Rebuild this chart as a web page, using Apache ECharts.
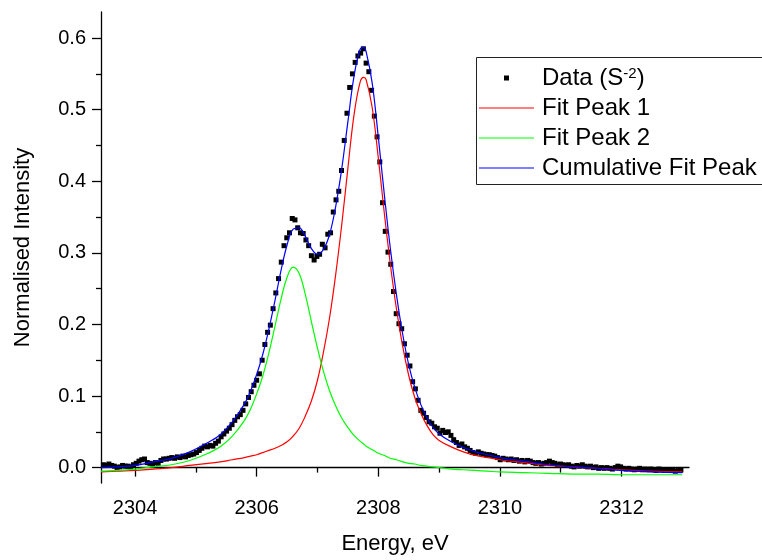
<!DOCTYPE html>
<html><head><meta charset="utf-8">
<script src="https://cdn.jsdelivr.net/npm/echarts@6/dist/echarts.min.js"></script>
<style>html,body{margin:0;padding:0;background:#fff}#c{width:762px;height:560px}</style>
</head><body><div id="c"></div>
<script>
const dataX = [2303.48,2303.525,2303.57,2303.615,2303.66,2303.705,2303.75,2303.795,2303.84,2303.885,
2303.93,2303.975,2304.02,2304.065,2304.11,2304.155,2304.2,2304.245,2304.29,2304.335,
2304.38,2304.425,2304.47,2304.515,2304.56,2304.605,2304.65,2304.695,2304.74,2304.785,
2304.83,2304.875,2304.92,2304.965,2305.01,2305.055,2305.1,2305.145,2305.19,2305.235,
2305.28,2305.325,2305.37,2305.415,2305.46,2305.505,2305.55,2305.595,2305.64,2305.685,
2305.73,2305.775,2305.82,2305.865,2305.91,2305.955,2306,2306.045,2306.09,2306.135,
2306.18,2306.225,2306.27,2306.315,2306.36,2306.405,2306.45,2306.495,2306.54,2306.585,
2306.63,2306.675,2306.72,2306.765,2306.81,2306.855,2306.9,2306.945,2306.99,2307.035,
2307.08,2307.125,2307.17,2307.215,2307.26,2307.305,2307.35,2307.395,2307.44,2307.485,
2307.53,2307.575,2307.62,2307.665,2307.71,2307.755,2307.8,2307.845,2307.89,2307.935,
2307.98,2308.025,2308.07,2308.115,2308.16,2308.205,2308.25,2308.295,2308.34,2308.385,
2308.43,2308.475,2308.52,2308.565,2308.61,2308.655,2308.7,2308.745,2308.79,2308.835,
2308.88,2308.925,2308.97,2309.015,2309.06,2309.105,2309.15,2309.195,2309.24,2309.285,
2309.33,2309.375,2309.42,2309.465,2309.51,2309.555,2309.6,2309.645,2309.69,2309.735,
2309.78,2309.825,2309.87,2309.915,2309.96,2310.005,2310.05,2310.095,2310.14,2310.185,
2310.23,2310.275,2310.32,2310.365,2310.41,2310.455,2310.5,2310.545,2310.59,2310.635,
2310.68,2310.725,2310.77,2310.815,2310.86,2310.905,2310.95,2310.995,2311.04,2311.085,
2311.13,2311.175,2311.22,2311.265,2311.31,2311.355,2311.4,2311.445,2311.49,2311.535,
2311.58,2311.625,2311.67,2311.715,2311.76,2311.805,2311.85,2311.895,2311.94,2311.985,
2312.03,2312.075,2312.12,2312.165,2312.21,2312.255,2312.3,2312.345,2312.39,2312.435,
2312.48,2312.525,2312.57,2312.615,2312.66,2312.705,2312.75,2312.795,2312.84,2312.885,
2312.93,2312.975];
const dataY = [0.004,0.003,0.005,0.003,0.002,0.000,0.001,0.003,0.002,0.002,
0.001,0.004,0.006,0.009,0.011,0.012,0.007,0.006,0.005,0.007,
0.006,0.010,0.012,0.012,0.013,0.014,0.013,0.015,0.014,0.016,
0.015,0.017,0.018,0.019,0.021,0.024,0.027,0.030,0.029,0.031,
0.030,0.034,0.037,0.043,0.047,0.051,0.055,0.060,0.066,0.071,
0.074,0.080,0.089,0.098,0.106,0.115,0.122,0.131,0.150,0.172,
0.189,0.199,0.222,0.244,0.264,0.287,0.310,0.321,0.328,0.348,
0.346,0.335,0.328,0.327,0.318,0.310,0.296,0.290,0.295,0.298,
0.312,0.307,0.326,0.328,0.357,0.374,0.386,0.415,0.457,0.495,
0.531,0.550,0.566,0.575,0.579,0.585,0.565,0.553,0.527,0.491,
0.462,0.427,0.370,0.330,0.301,0.284,0.246,0.215,0.201,0.194,
0.173,0.157,0.142,0.120,0.110,0.094,0.080,0.076,0.070,0.064,
0.062,0.057,0.055,0.048,0.052,0.049,0.050,0.045,0.039,0.035,
0.031,0.033,0.029,0.027,0.024,0.021,0.020,0.022,0.020,0.019,
0.018,0.018,0.017,0.016,0.014,0.011,0.013,0.012,0.011,0.012,
0.010,0.011,0.009,0.010,0.008,0.010,0.009,0.007,0.006,0.007,
0.005,0.006,0.007,0.009,0.007,0.006,0.004,0.005,0.004,0.003,
0.004,0.002,0.001,0.003,0.002,0.004,0.002,0.001,0.002,0.000,
0.001,-0.001,0.000,-0.001,0.000,-0.001,-0.002,0.000,0.002,0.001,
-0.001,-0.002,-0.001,-0.002,-0.003,-0.002,-0.001,-0.003,-0.002,-0.003,
-0.002,-0.003,-0.004,-0.002,-0.003,-0.004,-0.003,-0.004,-0.003,-0.005,
-0.004,-0.003];
const fitX = [2303.44,2303.7,2304.0,2304.3,2304.6,2304.9,2305.2,2305.4,2305.6,2305.8,2305.9,
2306.0,2306.1,2306.2,2306.3,2306.4,2306.5,2306.6,2306.7,2306.8,2306.9,
2307.0,2307.1,2307.2,2307.3,2307.4,2307.5,2307.6,2307.7,2307.76,2307.8,2307.9,
2308.0,2308.1,2308.2,2308.3,2308.4,2308.5,2308.6,2308.7,2308.8,2308.9,
2309.0,2309.2,2309.4,2309.6,2309.8,2310.0,2310.4,2310.8,2311.2,2311.6,2312.0,2312.5,2313.0];
const peak1 = [-0.006,-0.005,-0.004,-0.002,0.000,0.003,0.006,0.008,0.011,0.014,0.016,
0.018,0.021,0.024,0.027,0.031,0.036,0.044,0.055,0.072,0.093,
0.122,0.162,0.210,0.270,0.340,0.418,0.492,0.538,0.545,0.542,0.503,
0.433,0.355,0.283,0.221,0.170,0.129,0.098,0.076,0.059,0.046,
0.038,0.029,0.022,0.017,0.014,0.011,0.007,0.003,0.001,-0.001,-0.003,-0.005,-0.006];
const peak2 = [-0.005,-0.004,-0.002,0.001,0.004,0.010,0.020,0.029,0.044,0.066,0.082,
0.103,0.128,0.160,0.197,0.235,0.266,0.280,0.271,0.242,0.204,
0.167,0.134,0.107,0.086,0.069,0.056,0.045,0.037,0.033,0.030,0.025,
0.020,0.017,0.013,0.011,0.008,0.006,0.005,0.003,0.002,0.001,
0.000,-0.002,-0.003,-0.004,-0.005,-0.006,-0.007,-0.008,-0.009,-0.009,-0.010,-0.010,-0.010];
const cumulative = [0.000,0.001,0.003,0.008,0.013,0.022,0.035,0.046,0.064,0.089,0.107,
0.130,0.158,0.193,0.233,0.275,0.311,0.333,0.335,0.323,0.306,
0.298,0.305,0.326,0.365,0.418,0.483,0.546,0.584,0.587,0.581,0.537,
0.462,0.381,0.305,0.241,0.187,0.144,0.112,0.088,0.070,0.056,
0.047,0.036,0.028,0.022,0.018,0.014,0.009,0.004,0.001,-0.001,-0.004,-0.006,-0.007];
const xMajorTicks = [2304, 2306, 2308, 2310, 2312];
const xMinorTicks = [2305, 2307, 2309, 2311, 2313];
const yMajorTicks = [0, 0.1, 0.2, 0.3, 0.4, 0.5, 0.6];
const yMinorTicks = [0.05, 0.15, 0.25, 0.35, 0.45, 0.55];
const seriesNames = ['Data (S-2)', 'Fit Peak 1', 'Fit Peak 2', 'Cumulative Fit Peak'];

const FONT = "'Liberation Sans', Arial, sans-serif";
const X_MIN = 2303.44, X_MAX = 2313.11, Y_MIN = -0.0215, Y_MAX = 0.6364;
const zip = (xs, ys) => xs.map((x, i) => [x, ys[i]]);
const axisLineStyle = { color: '#000', width: 1.3 };
const corners = 'M0,0h0.01v0.01z M55,24h-0.01v-0.01z ';
const dotIcon = 'path://' + corners + 'M25,9.5h5v5h-5z';
const lineIcon = 'path://' + corners + 'M0,11.4h55v1.2h-55z';

const chart = echarts.init(document.getElementById('c'), null, { renderer: 'canvas' });
chart.setOption({
  animation: false,
  backgroundColor: '#fff',
  grid: { left: 101, right: 73, top: 12, bottom: 75 },
  graphic: [{
    type: 'rect', z: 5, silent: true,
    shape: { x: 476.5, y: 57.5, width: 320, height: 127 },
    style: { fill: '#fff', stroke: '#222', lineWidth: 1 }
  }],
  xAxis: [{
    type: 'value', min: X_MIN, max: X_MAX, position: 'bottom',
    axisLine: { show: true, lineStyle: axisLineStyle },
    axisTick: { show: true, customValues: xMajorTicks, length: 9, lineStyle: axisLineStyle },
    axisLabel: { customValues: xMajorTicks, formatter: v => String(v), fontSize: 20, color: '#000', fontFamily: FONT, margin: 15 },
    splitLine: { show: false },
    name: 'Energy, eV', nameLocation: 'middle', nameGap: 50,
    nameTextStyle: { fontSize: 22, color: '#000', fontFamily: FONT }
  }, {
    type: 'value', min: X_MIN, max: X_MAX, position: 'bottom',
    axisLine: { show: false },
    axisTick: { show: true, customValues: xMinorTicks, length: 5, lineStyle: axisLineStyle },
    axisLabel: { show: false }, splitLine: { show: false }
  }],
  yAxis: [{
    type: 'value', min: Y_MIN, max: Y_MAX, position: 'left',
    axisLine: { show: true, lineStyle: axisLineStyle },
    axisTick: { show: true, customValues: yMajorTicks, length: 9, lineStyle: axisLineStyle },
    axisLabel: { customValues: yMajorTicks, formatter: v => v.toFixed(1), fontSize: 20, color: '#000', fontFamily: FONT, margin: 15 },
    splitLine: { show: false },
    name: 'Normalised Intensity', nameLocation: 'middle', nameGap: 67,
    nameTextStyle: { fontSize: 22, color: '#000', fontFamily: FONT }
  }, {
    type: 'value', min: Y_MIN, max: Y_MAX, position: 'left',
    axisLine: { show: false },
    axisTick: { show: true, customValues: yMinorTicks, length: 5, lineStyle: axisLineStyle },
    axisLabel: { show: false }, splitLine: { show: false }
  }],
  legend: {
    orient: 'vertical', left: 476, top: 58, z: 6,
    itemWidth: 55, itemHeight: 24, itemGap: 6,
    padding: [8, 10, 5, 3],
    borderWidth: 0,
    textStyle: {
      fontSize: 24, color: '#000', fontFamily: FONT, padding: [0, 0, 0, 3],
      rich: {
        n: { fontSize: 24, color: '#000', fontFamily: FONT },
        s: { fontSize: 15, color: '#000', fontFamily: FONT, verticalAlign: 'top' }
      }
    },
    formatter: name => name === seriesNames[0] ? '{n|Data (S}{s|-2}{n|)}' : name,
    data: [
      { name: seriesNames[0], icon: dotIcon, itemStyle: { color: '#000', opacity: 1 } },
      { name: seriesNames[1], icon: lineIcon },
      { name: seriesNames[2], icon: lineIcon },
      { name: seriesNames[3], icon: lineIcon }
    ]
  },
  series: [{
    name: seriesNames[0], type: 'scatter', data: zip(dataX, dataY),
    symbol: 'rect', symbolSize: 5, itemStyle: { color: '#000', opacity: 1 }, z: 2
  }, {
    name: seriesNames[1], type: 'line', data: zip(fitX, peak1), smooth: 0.4,
    showSymbol: false, symbol: 'none', lineStyle: { color: '#ff0000', width: 1.2 }, itemStyle: { color: '#ff0000' }, z: 3
  }, {
    name: seriesNames[2], type: 'line', data: zip(fitX, peak2), smooth: 0.4,
    showSymbol: false, symbol: 'none', lineStyle: { color: '#00ff00', width: 1.2 }, itemStyle: { color: '#00ff00' }, z: 3
  }, {
    name: seriesNames[3], type: 'line', data: zip(fitX, cumulative), smooth: 0.4,
    showSymbol: false, symbol: 'none', lineStyle: { color: '#0000ff', width: 1.2 }, itemStyle: { color: '#0000ff' }, z: 4
  }]
});
</script>
</body></html>
